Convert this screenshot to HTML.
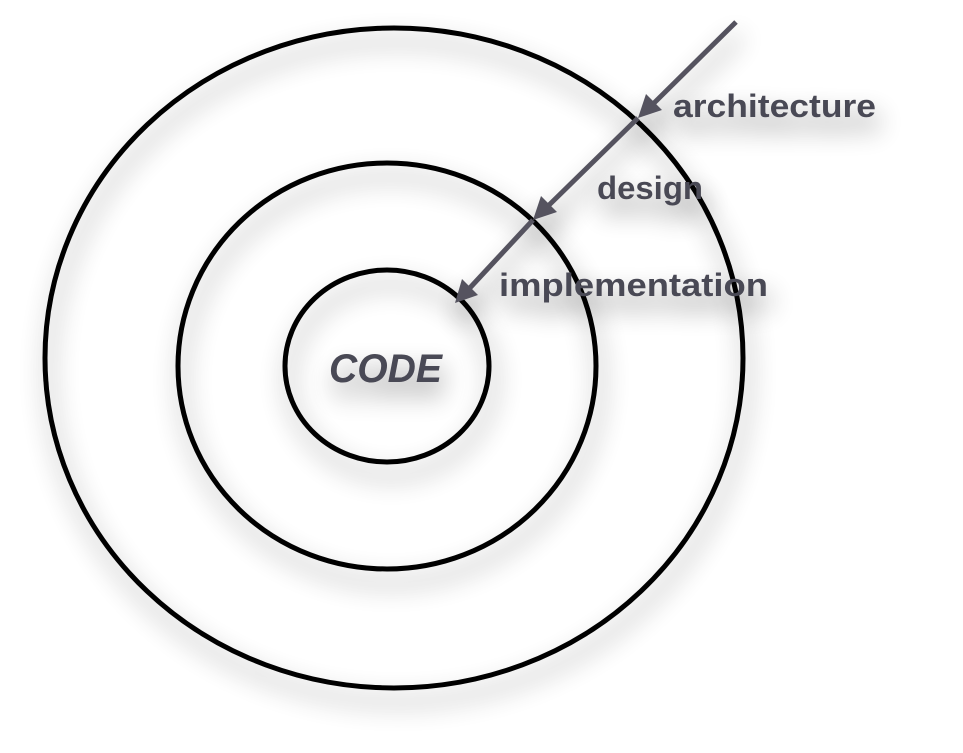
<!DOCTYPE html>
<html><head><meta charset="utf-8"><style>html,body{margin:0;padding:0;background:#fff;width:963px;height:753px;overflow:hidden}</style></head>
<body>
<svg width="963" height="753" viewBox="0 0 963 753" xmlns="http://www.w3.org/2000/svg">
<defs>
<filter id="sh" x="-30%" y="-30%" width="160%" height="160%">
<feGaussianBlur in="SourceAlpha" stdDeviation="13"/>
<feOffset dx="4" dy="14" result="b"/>
<feComponentTransfer in="b" result="c"><feFuncA type="linear" slope="0.45"/></feComponentTransfer>
<feMerge><feMergeNode in="c"/><feMergeNode in="SourceGraphic"/></feMerge>
</filter>
</defs>
<g fill="none" stroke="#000" stroke-width="5" filter="url(#sh)">
<ellipse cx="394" cy="358" rx="349" ry="330"/>
<ellipse cx="387" cy="366" rx="209" ry="203"/>
<ellipse cx="387" cy="366" rx="102" ry="96"/>
</g>
<g stroke="#55535f" stroke-width="5" fill="#55535f" filter="url(#sh)">
<line x1="736" y1="22" x2="650" y2="107"/>
<path d="M638,118 L646,94 L662,110 Z" stroke="none"/>
<line x1="638" y1="118" x2="545" y2="209"/>
<path d="M533,220 L541,196 L557,212 Z" stroke="none"/>
<line x1="533" y1="220" x2="467" y2="291"/>
<path d="M455,303 L462,279 L478,295 Z" stroke="none"/>
</g>
<g font-family="Liberation Sans, sans-serif" font-weight="bold" fill="#4a4954" filter="url(#sh)">
<text x="673" y="117" font-size="32" textLength="203" lengthAdjust="spacingAndGlyphs">architecture</text>
<text x="597" y="199" font-size="32" textLength="106" lengthAdjust="spacingAndGlyphs">design</text>
<text x="499" y="296" font-size="32" textLength="269" lengthAdjust="spacingAndGlyphs">implementation</text>
<text x="329" y="382" font-size="40" font-style="italic" textLength="113" lengthAdjust="spacingAndGlyphs">CODE</text>
</g>
</svg>
</body></html>
